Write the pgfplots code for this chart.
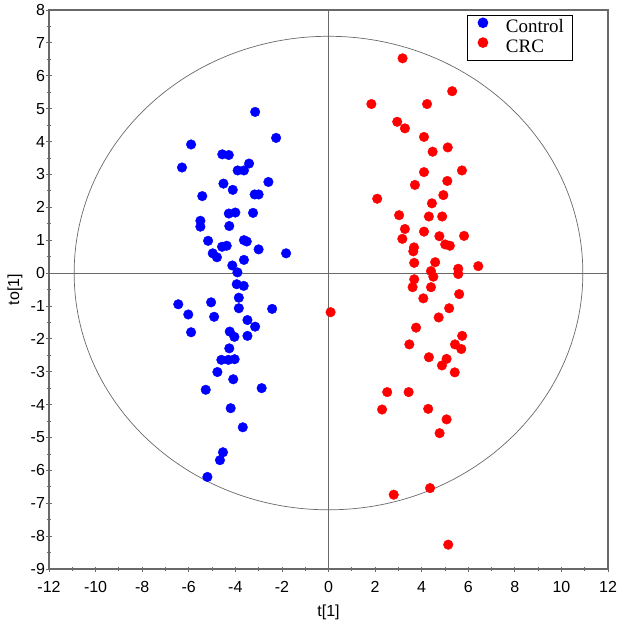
\documentclass[border=0pt]{standalone}
\usepackage{fontspec}
\setmainfont{Liberation Sans}
\newfontfamily\legfont{Liberation Serif}
\usepackage{pgfplots}
\pgfplotsset{compat=1.18}
\definecolor{frame}{RGB}{105,105,105}
\definecolor{cblue}{RGB}{0,0,255}
\definecolor{cred}{RGB}{255,0,0}
\begin{document}
\begin{tikzpicture}
\useasboundingbox (-49pt,-62pt) rectangle (575pt,569pt);
\begin{axis}[
  at={(0,0)}, anchor=south west,
  scale only axis, width=559pt, height=559pt,
  xmin=-12, xmax=12, ymin=-9, ymax=8,
  xtick={-12,-10,...,12}, minor xtick={-11,-9,...,11},
  ytick={-9,-8,...,8}, minor ytick={-8.5,-7.5,...,7.5},
  tick pos=left, tick align=center,
  major tick length=5pt, minor tick length=4pt,
  tick style={draw=frame, line width=0.8pt},
  axis line style={draw=frame, line width=1.2pt},
  /pgf/number format/assume math mode=true,
  ticklabel style={font=\fontsize{16}{16}\selectfont},
  xticklabel style={yshift=-6pt},
  yticklabel style={xshift=2pt},
  xlabel={t[1]}, ylabel={to[1]},
  label style={font=\fontsize{16}{16}\selectfont},
  xlabel style={at={(axis description cs:0.5,-0.077)}, anchor=center},
  ylabel style={at={(axis description cs:-0.061,0.5)}, anchor=center},
  legend style={at={(1,1)}, anchor=north east, xshift=-35pt, yshift=-5pt,
    draw=black, line width=1pt, font=\legfont\fontsize{19}{21}\selectfont,
    inner xsep=5.5pt, inner ysep=2.5pt, row sep=0pt,
    nodes={inner xsep=3pt, inner ysep=0pt, text height=14pt, text depth=5pt}},
  legend image code/.code={%
    \path[draw=none, fill=none] (0pt,0pt) -- (30pt,0pt);
    \draw[#1] plot coordinates {(10pt,5.5pt)};},
  legend cell align=left,
  clip=false,
]
\draw[frame, line width=0.8pt] (axis cs:-12,0) -- (axis cs:12,0);
\draw[frame, line width=0.8pt] (axis cs:0,-9) -- (axis cs:0,8);
\draw[frame, line width=0.7pt] (axis cs:0,0) ellipse [x radius=10.92, y radius=7.2];
\addplot[only marks, mark=*, mark size=4.8pt, mark options={draw=cblue, fill=cblue}] coordinates {
(-3.15,4.90) (-2.25,4.11) (-5.90,3.91) (-6.29,3.21) (-4.56,3.61) (-4.28,3.59)
(-3.41,3.33) (-3.90,3.12) (-3.63,3.12) (-2.58,2.77) (-4.51,2.72) (-4.11,2.53)
(-5.42,2.34) (-3.17,2.39) (-3.00,2.39) (-4.28,1.81) (-4.00,1.84) (-3.24,1.83)
(-5.50,1.59) (-5.50,1.41) (-4.26,1.43) (-5.17,0.98) (-3.63,1.00) (-3.51,0.96)
(-4.57,0.80) (-4.37,0.83) (-3.00,0.72) (-1.82,0.60) (-4.97,0.60) (-4.79,0.48)
(-3.63,0.40) (-4.13,0.23) (-3.91,0.02) (-3.94,-0.34) (-3.64,-0.39) (-3.85,-0.75)
(-6.45,-0.95) (-5.04,-0.89) (-3.85,-1.07) (-2.42,-1.09) (-6.02,-1.26) (-4.91,-1.33)
(-3.48,-1.43) (-3.15,-1.63) (-5.90,-1.80) (-4.24,-1.78) (-4.04,-1.94) (-3.48,-1.91)
(-4.26,-2.29) (-4.60,-2.64) (-4.30,-2.64) (-4.03,-2.62) (-4.77,-3.01) (-4.09,-3.23)
(-5.27,-3.55) (-2.87,-3.50) (-4.20,-4.11) (-3.68,-4.69) (-4.53,-5.45) (-4.66,-5.69)
(-5.20,-6.20)
};
\addlegendentry{Control}
\addplot[only marks, mark=*, mark size=4.8pt, mark options={draw=cred, fill=cred}] coordinates {
(3.18,6.53) (5.31,5.53) (1.84,5.14) (4.23,5.14) (2.95,4.60) (3.28,4.40)
(4.10,4.14) (5.12,3.82) (4.47,3.69) (5.73,3.12) (4.10,3.07) (5.10,2.80)
(3.71,2.68) (4.93,2.37) (2.09,2.26) (4.44,2.12) (3.03,1.76) (4.31,1.72)
(4.88,1.72) (3.28,1.34) (4.10,1.26) (3.17,1.04) (4.76,1.12) (5.82,1.13)
(5.01,0.87) (5.21,0.83) (3.67,0.78) (3.64,0.66) (3.68,0.31) (4.58,0.33)
(6.43,0.21) (4.40,0.06) (4.50,-0.11) (5.57,0.13) (5.57,-0.03) (3.68,-0.19)
(3.61,-0.43) (4.40,-0.43) (5.61,-0.64) (4.07,-0.77) (5.18,-1.07) (0.09,-1.19)
(4.73,-1.35) (3.76,-1.66) (5.74,-1.91) (3.47,-2.17) (5.43,-2.17) (5.70,-2.31)
(4.31,-2.56) (5.07,-2.61) (4.87,-2.81) (5.42,-3.02) (2.52,-3.62) (3.44,-3.62)
(2.30,-4.15) (4.28,-4.13) (5.07,-4.45) (4.77,-4.87) (2.80,-6.74) (4.36,-6.54)
(5.14,-8.26)
};
\addlegendentry{CRC}
\end{axis}
\end{tikzpicture}
\end{document}
